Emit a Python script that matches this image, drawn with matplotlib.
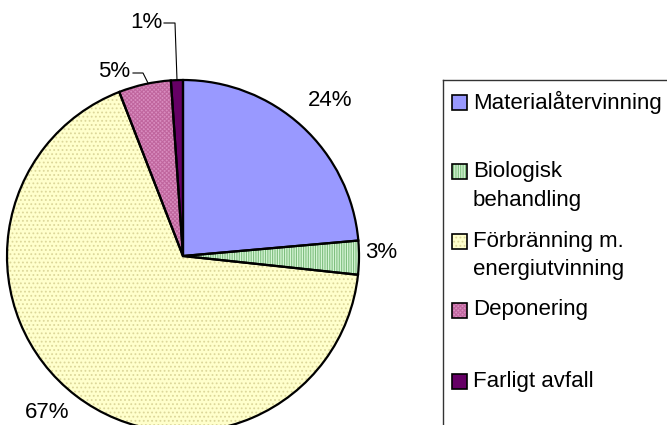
import matplotlib
matplotlib.use("Agg")
import matplotlib.pyplot as plt
from matplotlib.patches import Rectangle
from matplotlib.lines import Line2D

plt.rcParams['font.family'] = ['Liberation Sans', 'DejaVu Sans']
plt.rcParams['hatch.linewidth'] = 0.8

categories = ["Materialåtervinning", "Biologisk\nbehandling", "Förbränning m.\nenergiutvinning",
              "Deponering", "Farligt avfall"]
values = [23.6, 3.1, 67.4, 4.8, 1.1]
face_colors = ["#9999FF", "#D6F5D6", "#FFFFCC", "#D98CBF", "#660066"]
hatch_colors = ["#9999FF", "#7FBF7F", "#DCD79A", "#C0669E", "#660066"]
hatches = [None, "|||||||", "....", "xxxxxxxx", None]

W, H = 667, 425
fig = plt.figure(figsize=(W / 100, H / 100), dpi=100)
ax = fig.add_axes([0, 0, 1, 1])

cx, cy, R = 183, H - 256, 176

# filled + hatched layer
wedges, _ = ax.pie(values, startangle=90, counterclock=False, radius=R, center=(cx, cy),
                   colors=face_colors, wedgeprops=dict(linewidth=0))
for w, hc, h in zip(wedges, hatch_colors, hatches):
    w.set_edgecolor(hc)
    w.set_linewidth(0)
    if h:
        w.set_hatch(h)
# outline layer
ax.pie(values, startangle=90, counterclock=False, radius=R, center=(cx, cy),
       colors=["none"] * len(values),
       wedgeprops=dict(linewidth=1.6, edgecolor="black", fill=False))

ax.set_xlim(0, W)
ax.set_ylim(0, H)
ax.set_aspect('auto')
ax.axis('off')

FS = 16
labels = ["%.0f%%" % (v / sum(values) * 100) for v in values]
label_pos = [(330, 100), (381, 253), (47, 413), (114, 71), (146, 22)]
for lab, (x, y) in zip(labels, label_pos):
    ax.text(x, H - y, lab, fontsize=FS, ha='center', va='center', color='black')

# leader lines
ax.add_line(Line2D([164, 175, 177], [H - 23, H - 23, H - 80], color='black', lw=0.8))
ax.add_line(Line2D([133, 143, 148], [H - 73, H - 73, H - 83], color='black', lw=0.8))

# legend box (extends beyond figure)
fig.add_artist(Line2D([443 / W, 443 / W], [1 - 80 / H, 0], transform=fig.transFigure,
                      color='#333333', lw=1.0))
fig.add_artist(Line2D([443 / W, 1], [1 - 80 / H, 1 - 80 / H], transform=fig.transFigure,
                      color='#333333', lw=1.0))

rows = [102, 171, 241, 310, 381]
sq = 15
for cat, fc, hc, h, y in zip(categories, face_colors, hatch_colors, hatches, rows):
    ax.add_patch(Rectangle((452, H - y - sq / 2), sq, sq, facecolor=fc, edgecolor=hc, lw=0,
                           hatch=h))
    ax.add_patch(Rectangle((452, H - y - sq / 2), sq, sq, fill=False, edgecolor='black', lw=1.2))
    if '\n' in cat:
        l1, l2 = cat.split('\n')
        ax.text(473, H - y, l1, fontsize=FS, ha='left', va='center')
        ax.text(473, H - y - 29, l2, fontsize=FS, ha='left', va='center')
    else:
        ax.text(473, H - y, cat, fontsize=FS, ha='left', va='center')

fig.savefig("out.png", dpi=100)
